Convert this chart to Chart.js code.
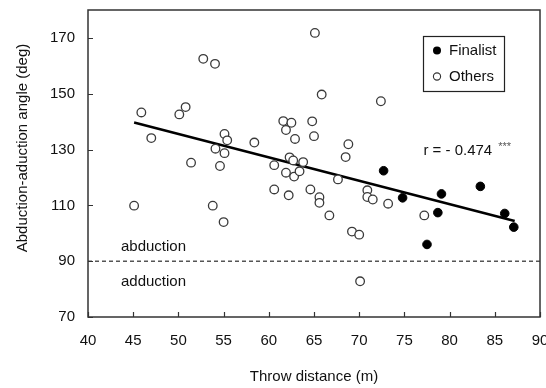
<!DOCTYPE html>
<html>
<head>
<meta charset="utf-8">
<script src="https://cdn.jsdelivr.net/npm/chart.js@4.4.1/dist/chart.umd.min.js"></script>
<style>
html,body{margin:0;padding:0;background:#fff;}
#wrap{width:546px;height:388px;position:relative;}
</style>
</head>
<body>
<div id="wrap"><canvas id="c" width="546" height="388"></canvas></div>
<script>
// ---- data ----
const finalistX = [72.7, 74.8, 77.5, 78.7, 79.1, 83.4, 86.1, 87.1];
const finalistY = [122.4, 112.7, 96.0, 107.4, 114.1, 116.8, 107.1, 102.2];

const othersX = [45.1, 45.9, 47.0, 50.1, 50.8, 51.4, 52.75, 53.8, 54.05, 54.1,
                 54.6, 55.0, 55.1, 55.1, 55.4, 58.4, 60.6, 60.6, 61.6, 61.9,
                 61.9, 62.2, 62.3, 62.5, 62.7, 62.8, 62.9, 63.4, 63.8, 64.6,
                 64.8, 65.0, 65.1, 65.6, 65.6, 65.85, 66.7, 67.65, 68.5, 68.8,
                 69.2, 70.0, 70.1, 70.9, 70.9, 71.5, 72.4, 73.2, 77.2];
const othersY = [109.9, 143.3, 134.1, 142.6, 145.2, 125.3, 162.5, 109.9, 160.7, 130.3,
                 124.1, 104.0, 135.6, 128.7, 133.3, 132.5, 124.4, 115.7, 140.2, 137.0,
                 121.7, 113.6, 127.2, 139.6, 126.1, 120.3, 133.8, 122.2, 125.5, 115.7,
                 140.1, 134.8, 171.8, 112.9, 110.9, 149.7, 106.4, 119.3, 127.3, 131.9,
                 100.6, 99.5, 82.8, 115.4, 113.0, 112.1, 147.3, 110.6, 106.4];

const fitX = [45.1, 87.2];
const fitY = [139.7, 104.4];

const refLineX = [40, 90];
const refLineY = [90, 90];

const xTicks = [40, 45, 50, 55, 60, 65, 70, 75, 80, 85, 90];
const yTicks = [70, 90, 110, 130, 150, 170];

const seriesLabels = ['Finalist', 'Others'];
const xTitle = 'Throw distance (m)';
const yTitle = 'Abduction-aduction angle (deg)';
const rText = 'r = - 0.474';
const rStars = '***';
const aboveLabel = 'abduction';
const belowLabel = 'adduction';

// ---- build ----
const pts = (xs, ys) => xs.map((x, i) => ({x: x, y: ys[i]}));
const FONT = "'Liberation Sans', Arial, sans-serif";
const TXT = '#111';

const overlay = {
  id: 'overlay',
  afterDatasetsDraw(chart) {
    const ctx = chart.ctx;
    const a = chart.chartArea;
    const xs = chart.scales.x, ys = chart.scales.y;
    ctx.save();
    // frame
    ctx.strokeStyle = '#333';
    ctx.lineWidth = 1.5;
    ctx.strokeRect(a.left, a.top, a.right - a.left, a.bottom - a.top);
    // inward ticks
    ctx.lineWidth = 1.2;
    ctx.beginPath();
    xTicks.forEach(v => {
      const px = Math.round(xs.getPixelForValue(v)) + 0.5;
      ctx.moveTo(px, a.bottom); ctx.lineTo(px, a.bottom - 5);
    });
    yTicks.forEach(v => {
      const py = Math.round(ys.getPixelForValue(v)) + 0.5;
      ctx.moveTo(a.left, py); ctx.lineTo(a.left + 5, py);
    });
    ctx.stroke();

    ctx.fillStyle = TXT;
    ctx.font = '15px ' + FONT;
    ctx.textBaseline = 'middle';
    ctx.textAlign = 'left';
    // annotations
    ctx.fillText(aboveLabel, xs.getPixelForValue(43.65), ys.getPixelForValue(95.1));
    ctx.fillText(belowLabel, xs.getPixelForValue(43.65), ys.getPixelForValue(82.6));
    const rx = xs.getPixelForValue(77.1), ry = ys.getPixelForValue(129.7);
    ctx.fillText(rText, rx, ry);
    const rw = ctx.measureText(rText).width;
    ctx.font = '11px ' + FONT;
    ctx.fillStyle = '#555';
    ctx.fillText(rStars, rx + rw + 6, ry - 3);

    // axis titles
    ctx.fillStyle = TXT;
    ctx.font = '15px ' + FONT;
    ctx.textAlign = 'center';
    ctx.fillText(xTitle, (a.left + a.right) / 2, 377);
    ctx.save();
    ctx.translate(23, 148);
    ctx.rotate(-Math.PI / 2);
    ctx.fillText(yTitle, 0, 0);
    ctx.restore();

    // legend
    const lx = a.right - 117, ly = a.top + 26, lw = 81, lh = 55;
    ctx.fillStyle = '#fff';
    ctx.fillRect(lx, ly, lw, lh);
    ctx.strokeStyle = '#222';
    ctx.lineWidth = 1.2;
    ctx.strokeRect(lx + 0.5, ly + 0.5, lw, lh);
    ctx.beginPath();
    ctx.arc(lx + 14, ly + 14.5, 4, 0, Math.PI * 2);
    ctx.fillStyle = '#000';
    ctx.fill();
    ctx.beginPath();
    ctx.arc(lx + 14, ly + 40.5, 3.6, 0, Math.PI * 2);
    ctx.fillStyle = '#fff';
    ctx.fill();
    ctx.strokeStyle = '#333';
    ctx.lineWidth = 1.1;
    ctx.stroke();
    ctx.fillStyle = TXT;
    ctx.textAlign = 'left';
    ctx.font = '15px ' + FONT;
    ctx.fillText(seriesLabels[0], lx + 26, ly + 14.5);
    ctx.fillText(seriesLabels[1], lx + 26, ly + 40.5);
    ctx.restore();
  }
};

new Chart(document.getElementById('c'), {
  type: 'scatter',
  data: {
    datasets: [
      {
        label: seriesLabels[0],
        data: pts(finalistX, finalistY),
        backgroundColor: '#000',
        borderColor: '#000',
        borderWidth: 1,
        pointRadius: 4.3,
        pointHoverRadius: 4.3
      },
      {
        label: seriesLabels[1],
        data: pts(othersX, othersY),
        backgroundColor: '#fff',
        borderColor: '#3a3a3a',
        borderWidth: 1.3,
        pointRadius: 4.3,
        pointHoverRadius: 4.3
      },
      {
        type: 'line',
        label: 'fit',
        data: pts(fitX, fitY),
        borderColor: '#000',
        borderWidth: 2.4,
        pointRadius: 0,
        fill: false
      },
      {
        type: 'line',
        label: 'ref',
        data: pts(refLineX, refLineY),
        borderColor: '#555',
        borderWidth: 1.5,
        borderDash: [4, 3],
        pointRadius: 0,
        fill: false
      }
    ]
  },
  options: {
    responsive: false,
    animation: false,
    events: [],
    layout: {padding: {left: 0, right: 6, top: 10, bottom: 0}},
    plugins: {legend: {display: false}, tooltip: {enabled: false}, title: {display: false}},
    scales: {
      x: {
        type: 'linear',
        min: 40, max: 90,
        afterBuildTicks: s => { s.ticks = xTicks.map(v => ({value: v})); },
        afterFit: s => { s.height = 71; s.paddingLeft = 0; s.paddingRight = 0; },
        grid: {display: false, drawTicks: false},
        border: {display: false},
        ticks: {color: TXT, font: {family: FONT, size: 15}, padding: 15, maxRotation: 0, autoSkip: false}
      },
      y: {
        type: 'linear',
        min: 70, max: 180,
        afterBuildTicks: s => { s.ticks = yTicks.map(v => ({value: v})); },
        afterFit: s => { s.width = 88; s.paddingTop = 0; s.paddingBottom = 0; },
        grid: {display: false, drawTicks: false},
        border: {display: false},
        ticks: {color: TXT, font: {family: FONT, size: 15}, padding: 13, autoSkip: false}
      }
    }
  },
  plugins: [overlay]
});
</script>
</body>
</html>
